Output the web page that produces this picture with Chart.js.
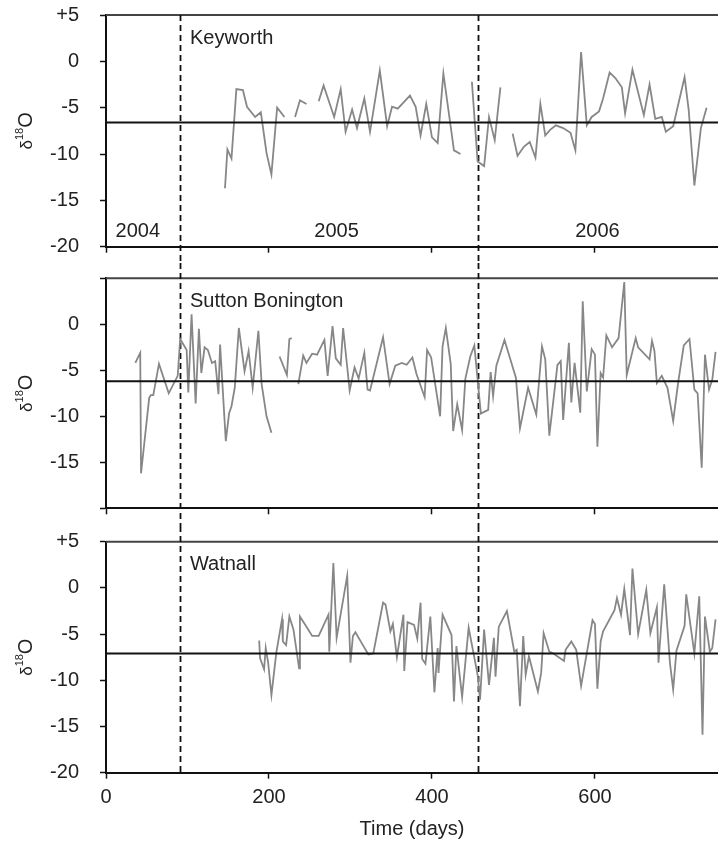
<!DOCTYPE html>
<html><head>
<meta charset="utf-8">
<title>δ18O time series - Keyworth, Sutton Bonington, Watnall</title>
<script src="https://cdn.jsdelivr.net/npm/chart.js"></script>
<style>
  body { margin: 0; background: #fff; }
  .figure { width: 718px; height: 841px; }
  .panel { position: relative; width: 718px; }
</style>
</head>
<body>
<div class="figure">
  <div class="panel" style="height:263px"><canvas id="p1"></canvas></div>
  <div class="panel" style="height:263px"><canvas id="p2"></canvas></div>
  <div class="panel" style="height:315px"><canvas id="p3"></canvas></div>
</div>

<script>
// days since 1 Oct 2004, null = gap in the record
const keyworthDays = [146,149,154,160,168,173,183,190,197,203,210,219,225,232,238,246,253,261,267,280,288,294,302,308,317,324,336,345,351,358,373,380,386,393,400,407,414,427,435,442,449,456,464,470,477,484,491,499,505,513,520,527,533,539,545,552,561,570,576,583,590,596,605,610,618,625,633,637,646,660,667,674,682,687,696,710,715,722,730,737];
const keyworthD18O = [-13.7,-9.5,-10.5,-3.0,-3.1,-4.9,-6.0,-5.5,-9.9,-12.2,-5.0,-6.0,null,-6.0,-4.2,-4.6,null,-4.3,-2.6,-6.0,-3.0,-7.6,-5.2,-7.2,-4.0,-7.6,-1.0,-7.0,-4.9,-5.1,-3.7,-4.9,-8.0,-4.6,-8.2,-8.8,-1.3,-9.6,-10.0,null,-2.2,-10.8,-11.3,-6.0,-8.5,-2.8,null,-7.8,-10.2,-9.2,-8.7,-10.4,-4.6,-8.0,-7.4,-6.9,-7.2,-7.7,-9.6,1.0,-6.9,-6.0,-5.4,-4.0,-1.2,-1.8,-2.8,-5.6,-0.9,-5.8,-2.5,-6.2,-6.0,-7.6,-7.0,-1.7,-5.2,-13.4,-7.2,-5.0];

const suttonDays = [36,42,43,53,55,58,65,77,88,91,99,101,105,110,114,117,121,125,130,134,138,140,147,151,154,158,163,170,175,180,187,191,197,203,208,213,222,225,228,232,236,242,246,253,259,268,272,278,282,288,291,299,305,310,317,321,324,340,348,355,363,369,376,381,391,394,399,410,413,417,423,426,431,437,441,447,452,460,469,472,475,479,489,503,508,518,528,535,539,544,554,558,561,568,571,575,582,585,590,596,600,603,607,610,614,621,629,636,639,650,653,667,670,673,676,682,689,696,702,709,716,722,726,731,735,740,744,748];
const suttonD18O = [-4.2,-3.1,-16.2,-8.0,-7.7,-7.7,-4.3,-7.5,-5.6,-1.6,-2.8,-7.4,1.1,-8.6,-0.5,-5.3,-2.5,-2.8,-4.2,-4.0,-7.6,-2.2,-12.7,-9.7,-8.9,-6.9,-0.4,-5.1,-2.9,-6.9,-0.7,-6.5,-10.0,-11.8,null,-3.5,-5.5,-1.6,-1.5,null,-6.5,-3.4,-4.2,-3.2,-3.3,-1.7,-5.6,-0.2,-3.7,-4.4,-0.4,-7.2,-4.7,-5.9,-3.1,-7.1,-7.2,-1.4,-6.5,-4.5,-4.2,-4.4,-3.6,-5.4,-7.9,-2.8,-3.6,-10.0,-2.4,-0.4,-4.3,-11.6,-8.7,-11.5,-5.9,-3.5,-2.3,-9.7,-9.3,-5.2,-7.8,-4.5,-1.7,-5.8,-11.3,-6.9,-9.8,-2.4,-3.8,-12.1,-4.4,-4.0,-10.4,-2.0,-8.5,-4.2,-9.6,2.5,-7.3,-2.7,-3.3,-13.3,-5.3,-5.8,-1.2,-2.5,-1.5,4.6,-5.5,-1.5,-2.5,-3.8,-1.8,-2.9,-6.4,-5.6,-6.9,-10.5,-6.4,-2.3,-1.6,-7.1,-7.5,-15.6,-3.3,-7.1,-6.0,-3.0];

const watnallDays = [188,189,194,196,199,203,209,216,217,221,225,230,237,238,246,253,261,273,274,279,283,296,300,303,306,314,322,328,340,343,349,352,357,365,366,370,378,382,386,388,392,398,403,407,408,413,424,427,430,437,445,456,459,464,470,476,478,482,492,501,504,508,512,515,519,530,534,537,544,549,562,564,571,577,583,597,600,603,607,610,624,627,632,636,643,646,653,663,668,676,678,685,692,696,700,710,712,722,728,732,735,741,744,748];
const watnallD18O = [-5.7,-7.6,-8.8,-6.5,-8.1,-11.6,-7.0,-3.4,-5.8,-6.2,-3.1,-4.5,-8.7,-3.1,-4.2,-5.2,-5.2,-2.9,-6.9,2.7,-5.4,1.3,-8.1,-5.2,-4.8,-6.0,-7.2,-7.1,-1.6,-1.8,-4.7,-3.9,-7.5,-2.9,-9.0,-3.7,-4.0,-5.5,-1.6,-7.7,-8.2,-3.1,-11.3,-6.5,-9.2,-2.9,-5.1,-12.3,-6.3,-11.8,-4.3,-9.4,-12.1,-4.5,-10.5,-5.4,-9.6,-4.2,-2.5,-6.9,-6.7,-12.8,-5.2,-9.4,-7.4,-11.2,-9.2,-4.9,-6.9,-7.1,-7.9,-6.7,-5.8,-6.7,-10.6,-3.5,-3.9,-10.9,-5.8,-4.7,-2.4,-1.1,-2.9,-0.1,-5.1,2.1,-5.0,-0.2,-4.9,-2.1,-8.1,0.4,-8.1,-11.0,-6.8,-4.1,-0.7,-7.1,-0.9,-15.9,-3.1,-6.9,-6.5,-3.4];

const stationNames = ['Keyworth', 'Sutton Bonington', 'Watnall'];
const stationMeans = [-6.6, -6.2, -7.1];
const yearBoundaries = [91, 456];          // 1 Jan 2005, 1 Jan 2006
const yearLabels = ['2004', '2005', '2006'];
const yearLabelDays = [39, 283, 603];
const xMax = 751;

Chart.defaults.font.family = "'Liberation Sans', Arial, sans-serif";
Chart.defaults.font.size = 20;
Chart.defaults.color = '#222';

const INK = '#111';

// top frame line, dashed year boundaries, labels, y title with superscript
const panelDecor = {
  id: 'panelDecor',
  beforeDatasetsDraw(chart, args, opts) {
    const {ctx, chartArea: a, scales: {x}} = chart;
    ctx.save();
    ctx.strokeStyle = '#444';
    ctx.lineWidth = 2;
    ctx.beginPath();
    ctx.moveTo(a.left, a.top);
    ctx.lineTo(a.right, a.top);
    ctx.stroke();

    // boundaries run through the gaps between panels
    ctx.setLineDash([6, 4]);
    ctx.strokeStyle = INK;
    ctx.lineWidth = 1.8;
    const yStart = opts.first ? a.top : 0;
    const yEnd = opts.last ? a.bottom : chart.height;
    yearBoundaries.forEach(d => {
      const px = Math.round(x.getPixelForValue(d)) + 0.5;
      ctx.beginPath();
      ctx.moveTo(px, yStart);
      ctx.lineTo(px, yEnd);
      ctx.stroke();
    });
    ctx.restore();
  },
  afterDraw(chart, args, opts) {
    const {ctx, chartArea: a, scales: {x, y}} = chart;
    ctx.save();
    ctx.fillStyle = '#222';
    ctx.font = "20px 'Liberation Sans', Arial, sans-serif";
    ctx.textBaseline = 'middle';
    ctx.textAlign = 'left';
    ctx.fillText(opts.name, x.getPixelForValue(103), y.getPixelForValue(2.5));

    if (opts.years) {
      ctx.textAlign = 'center';
      yearLabels.forEach((t, i) => {
        ctx.fillText(t, x.getPixelForValue(yearLabelDays[i]), y.getPixelForValue(-18.4));
      });
    }

    // δ18O rotated, superscript 18
    ctx.translate(25, (a.top + a.bottom) / 2);
    ctx.rotate(-Math.PI / 2);
    ctx.textBaseline = 'alphabetic';
    ctx.textAlign = 'left';
    const big = "20px 'Liberation Sans', Arial, sans-serif";
    const dfont = "17px 'Liberation Sans', Arial, sans-serif";
    const small = "11px 'Liberation Sans', Arial, sans-serif";
    ctx.font = dfont; const w1 = ctx.measureText('δ').width;
    ctx.font = small; const w2 = ctx.measureText('18').width;
    ctx.font = big; const w3 = ctx.measureText('O').width;
    let cx = -(w1 + w2 + w3) / 2;
    ctx.font = dfont; ctx.fillText('δ', cx, 7); cx += w1;
    ctx.font = small; ctx.fillText('18', cx, -2); cx += w2;
    ctx.font = big; ctx.fillText('O', cx, 7);
    ctx.restore();
  }
};

function series(days, vals) {
  return days.map((d, i) => ({x: d, y: vals[i]}));
}

// canvases: 0-263, 263-526, 526-841; plot areas 15-247, 278-508, 542-773
const panels = [
  {id: 'p1', days: keyworthDays, vals: keyworthD18O, padTop: 15, axisH: 16.3, first: true, years: true},
  {id: 'p2', days: suttonDays, vals: suttonD18O, padTop: 15.3, axisH: 17.7, hideEnds: true},
  {id: 'p3', days: watnallDays, vals: watnallD18O, padTop: 15.7, axisH: 68.3, last: true}
];

panels.forEach((p, i) => {
  new Chart(document.getElementById(p.id), {
    type: 'line',
    data: {
      datasets: [
        {
          label: 'mean',
          data: [{x: 0, y: stationMeans[i]}, {x: xMax, y: stationMeans[i]}],
          borderColor: INK,
          borderWidth: 2,
          pointRadius: 0
        },
        {
          label: stationNames[i],
          data: series(p.days, p.vals),
          borderColor: '#878787',
          borderWidth: 1.8,
          pointRadius: 0,
          tension: 0,
          spanGaps: false
        }
      ]
    },
    options: {
      responsive: true,
      maintainAspectRatio: false,
      animation: false,
      events: [],
      layout: {padding: {top: p.padTop, right: 0, bottom: 0, left: 0}},
      plugins: {
        legend: {display: false},
        tooltip: {enabled: false},
        panelDecor: {name: stationNames[i], years: !!p.years, first: !!p.first, last: !!p.last}
      },
      scales: {
        x: {
          type: 'linear',
          min: 0,
          max: xMax,
          afterFit: s => { s.height = p.axisH; s.paddingLeft = 0; s.paddingRight = 0; },
          border: {display: true, color: INK, width: 2},
          grid: {drawOnChartArea: false, drawTicks: true, tickLength: 6, tickColor: INK, tickWidth: 1.5},
          ticks: {display: !!p.last, stepSize: 200, includeBounds: false, padding: 7, maxRotation: 0},
          title: {display: !!p.last, text: 'Time (days)', padding: {top: 0, bottom: 0}}
        },
        y: {
          min: -20,
          max: 5,
          afterFit: s => { s.width = 106; s.paddingTop = 0; s.paddingBottom = 0; },
          border: {display: true, color: INK, width: 2},
          grid: {drawOnChartArea: false, drawTicks: true, tickLength: 6, tickColor: INK, tickWidth: 1.5},
          ticks: {
            stepSize: 5,
            padding: 21,
            callback: v => {
              if (p.hideEnds && (v === 5 || v === -20)) return '';
              return v > 0 ? '+' + v : String(v);
            }
          }
        }
      }
    },
    plugins: [panelDecor]
  });
});
</script>
</body>
</html>
